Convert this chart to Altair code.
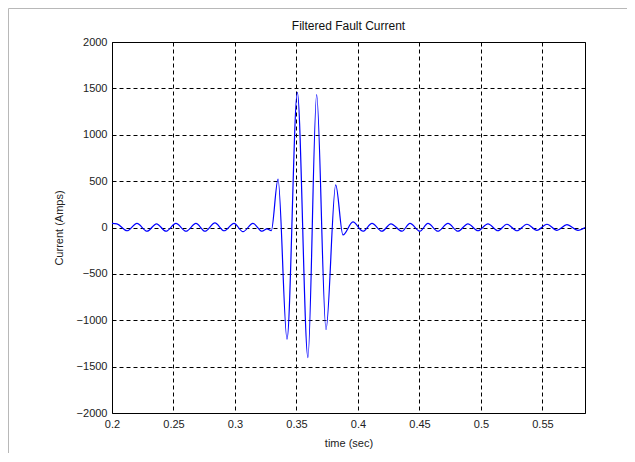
import altair as alt
import pandas as pd

# time (s) and filtered current (A), read from peaks/troughs of the trace
time_s = [
    0.2000, 0.2040, 0.2122, 0.2203, 0.2285, 0.2362, 0.2439, 0.2520, 0.2602,
    0.2683, 0.2756, 0.2837, 0.2911, 0.2992, 0.3065, 0.3146, 0.3220, 0.3260,
    0.3295, 0.3350, 0.3423, 0.3507, 0.3593, 0.3664, 0.3740, 0.3819, 0.3878,
    0.3959, 0.4041, 0.4114, 0.4195, 0.4268, 0.4358, 0.4423, 0.4504, 0.4569,
    0.4650, 0.4732, 0.4813, 0.4894, 0.4976, 0.5057, 0.5138, 0.5211, 0.5293,
    0.5374, 0.5455, 0.5537, 0.5618, 0.5699, 0.5789, 0.5846,
]
current_a = [
    45, 40, -35, 45, -40, 40, -40, 45, -40,
    45, -40, 50, -35, 45, -45, 45, -40, -15,
    -35, 522, -1205, 1457, -1403, 1432, -1100, 460, -80,
    60, -40, 45, -40, 40, -40, 45, -40, 45,
    -40, 45, -40, 40, -35, 40, -35, 35, -35,
    35, -30, 35, -30, 30, -30, 0,
]

x_ticks = [0.2, 0.25, 0.3, 0.35, 0.4, 0.45, 0.5, 0.55]
y_ticks = [-2000, -1500, -1000, -500, 0, 500, 1000, 1500, 2000]
title_text = ["Filtered Fault Current"]

df = pd.DataFrame({"t": time_s, "i": current_a})

FONT = "Liberation Sans"

frame = alt.Chart(pd.DataFrame({"a": [0]})).mark_rect(
    fill="transparent", stroke="#b8b8b8", strokeWidth=1, clip=False
).encode(
    x=alt.value(-103.5), x2=alt.value(560), y=alt.value(-33.5), y2=alt.value(460)
)

title = alt.Chart(pd.DataFrame({"txt": title_text})).mark_text(
    font=FONT, fontSize=12, color="#111", align="center", baseline="middle"
).encode(
    text="txt:N", x=alt.value(236.5), y=alt.value(-16)
)

line = alt.Chart(df).mark_line(
    color="#0000ff", strokeWidth=1.2, interpolate="monotone", clip=True
).encode(
    x=alt.X("t:Q",
            scale=alt.Scale(domain=[0.2, 0.5846], nice=False, zero=False),
            axis=alt.Axis(values=x_ticks, title="time (sec)", format="~g",
                          labelFlush=False, labelOverlap=False)),
    y=alt.Y("i:Q",
            scale=alt.Scale(domain=[-2000, 2000], nice=False),
            axis=alt.Axis(values=y_ticks, title="Current (Amps)", format="d",
                          labelOverlap=False)),
)

chart = alt.layer(frame, title, line).properties(
    width=473,
    height=371,
    background="white",
    autosize=alt.AutoSizeParams(type="none"),
    padding={"left": 104, "top": 34, "right": 42, "bottom": 40},
).configure_view(
    stroke="#000", strokeWidth=1
).configure_axis(
    grid=True, gridColor="#000", gridDash=[4, 3], gridWidth=1, gridOpacity=1,
    domain=False, ticks=False,
    labelFont=FONT, labelFontSize=11, labelColor="#222", labelPadding=5,
    titleFont=FONT, titleFontSize=11, titleColor="#222", titleFontWeight="normal",
).configure_axisY(
    titlePadding=12
).configure_axisX(
    titlePadding=8
)

chart.save("out.html", embed_options={"renderer": "svg", "actions": False})
